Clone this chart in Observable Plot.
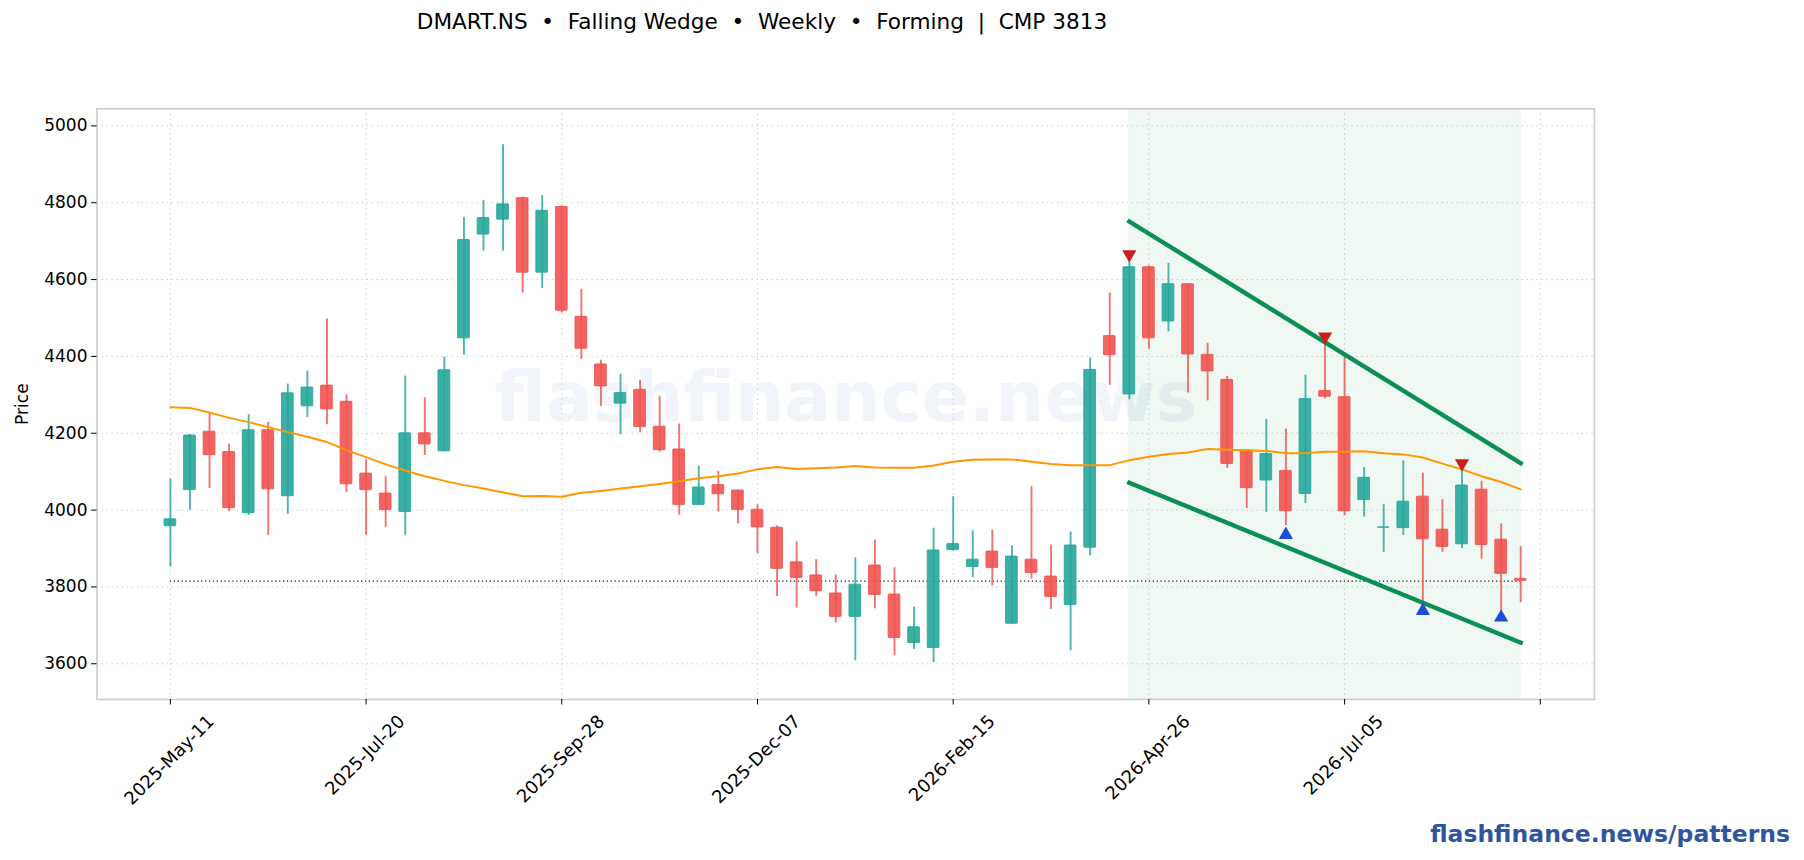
<!DOCTYPE html>
<html>
<head>
<meta charset="utf-8">
<script src="https://cdn.jsdelivr.net/npm/d3@7"></script>
<script src="https://cdn.jsdelivr.net/npm/@observablehq/plot@0.6"></script>
<style>
html,body{margin:0;padding:0;background:#fff;width:1804px;height:860px;overflow:hidden;font-family:"DejaVu Sans",sans-serif}
#title{position:absolute;left:762px;top:9px;transform:translateX(-50%);font-size:21.6px;line-height:26px;white-space:pre;color:#000}
#foot{position:absolute;right:14px;top:820px;font-size:23.5px;line-height:28px;font-weight:700;color:#2f55a0;white-space:pre}
#chart{position:absolute;left:0;top:0}
</style>
</head>
<body>
<div id="title">DMART.NS  •  Falling Wedge  •  Weekly  •  Forming  |  CMP 3813</div>
<div id="chart"></div>
<div id="foot">flashfinance.news/patterns</div>
<script>
const tickLabels = ["2025-May-11","2025-Jul-20","2025-Sep-28","2025-Dec-07","2026-Feb-15","2026-Apr-26","2026-Jul-05",""];
const opens  = [3958,4052,4204,4151,3992,4208,4036,4270,4324,4282,4095,4043,3995,4200,4153,4447,4717,4756,4812,4618,4789,4503,4379,4277,4313,4217,4158,4013,4065,4051,4001,3954,3864,3830,3783,3722,3856,3780,3654,3641,3896,3852,3892,3704,3871,3827,3753,3902,4453,4301,4632,4491,4588,4404,4339,4155,4077,4102,4042,4310,4294,4026,3954,3953,4035,3949,3911,4053,3923,3821];
const closes = [3976,4194,4143,4005,4208,4054,4304,4319,4262,4067,4052,4000,4200,4171,4364,4703,4760,4796,4618,4779,4519,4420,4322,4305,4216,4156,4013,4059,4041,4000,3955,3847,3823,3789,3722,3806,3779,3667,3695,3895,3912,3871,3849,3879,3836,3774,3908,4365,4403,4632,4447,4588,4405,4361,4120,4057,4146,3997,4289,4295,3997,4084,3955,4022,3924,3904,4064,3909,3834,3816];
const highs  = [4081,4197,4250,4172,4248,4229,4328,4362,4497,4300,4131,4087,4349,4292,4398,4762,4806,4951,4815,4819,4792,4575,4390,4354,4338,4296,4224,4115,4101,4052,4014,3959,3917,3871,3831,3876,3922,3850,3748,3953,4035,3946,3948,3907,4061,3909,3943,4396,4565,4650,4636,4642,4588,4434,4348,4155,4236,4211,4351,4435,4400,4111,4015,4128,4096,4027,4105,4074,3964,3905];
const lows   = [3852,3999,4056,3996,3986,3934,3989,4241,4222,4046,3934,3955,3934,4142,4153,4403,4674,4674,4565,4577,4513,4392,4270,4196,4201,4151,3987,4013,3995,3964,3887,3775,3745,3775,3706,3608,3743,3621,3637,3603,3893,3824,3803,3704,3820,3741,3634,3881,4325,4287,4419,4464,4305,4284,4108,4004,3994,3960,4017,4290,3985,3982,3890,3934,3753,3890,3900,3872,3735,3759];
const maValues = [4268,4266,4254,4240,4229,4216,4203,4191,4177,4156,4138,4119,4103,4088,4076,4065,4056,4046,4036,4037,4035,4045,4050,4056,4062,4068,4075,4083,4088,4095,4106,4112,4107,4109,4111,4115,4111,4110,4110,4116,4126,4131,4132,4132,4126,4120,4117,4117,4117,4130,4139,4146,4150,4159,4157,4156,4154,4148,4148,4152,4152,4153,4148,4145,4137,4121,4106,4088,4073,4054];
const priceTicks = [3600,3800,4000,4200,4400,4600,4800,5000];
const indexTicks = [0,10,20,30,40,50,60,70];
const cmpLine = 3815;
const patternStart = 49, patternEnd = 69;
const upperTrend = [[49,4751],[69,4122]];
const lowerTrend = [[49,4071],[69,3655]];
const highPivots = [[49,4663],[59,4449],[66,4119]];
const lowPivots  = [[57,3937],[64,3739],[68,3722]];
const watermark = "flashfinance.news";

const candles = opens.map((o,i)=>({i,o,c:closes[i],h:highs[i],l:lows[i],up:closes[i]>=o}));
const UP = "#26a69a", DOWN = "#ef5350", FONT = "DejaVu Sans", TS = 17, XTS = 17.9;
const ctx = document.createElement("canvas").getContext("2d");
ctx.font = XTS+"px '"+FONT+"'";
const labelMarks = tickLabels.filter(t=>t).map((t,k)=>{
  const w = ctx.measureText(t).width;
  const half = (w+XTS*0.95)*Math.SQRT1_2/2;
  return Plot.text([t],{x:()=>indexTicks[k],frameAnchor:"bottom",text:d=>d,rotate:-45,textAnchor:"middle",lineAnchor:"middle",dy:13+half,dx:-1,fontSize:XTS,fill:"#000"});
});
const chart = Plot.plot({
  width:1804,height:860,
  marginLeft:96.5,marginRight:210,marginTop:108.3,marginBottom:161,
  style:{fontFamily:FONT,fontSize:TS+"px",background:"transparent",overflow:"visible"},
  x:{domain:[-3.75,72.77]},
  y:{domain:[3507,5044.5]},
  marks:[
    Plot.text([watermark],{frameAnchor:"middle",dy:-5,text:d=>d,fontSize:69.4,fontWeight:700,fill:"#f1f4f9"}),
    Plot.gridX(indexTicks,{stroke:"#cfcfcf",strokeOpacity:1,strokeWidth:1,strokeDasharray:"1.5,3.5"}),
    Plot.gridY(priceTicks,{stroke:"#cfcfcf",strokeOpacity:1,strokeWidth:1,strokeDasharray:"1.5,3.5"}),
    Plot.rect([[patternStart,patternEnd]],{x1:d=>d[0],x2:d=>d[1],fill:"#0b8f52",fillOpacity:0.065,stroke:"#0b8f52",strokeOpacity:0.05,strokeWidth:1}),
    Plot.ruleY([cmpLine],{x1:()=>0,x2:()=>69,stroke:"#222",strokeWidth:1.3,strokeDasharray:"1.3,2.6"}),
    Plot.ruleX(candles,{x:"i",y1:"l",y2:"h",stroke:d=>d.up?UP:DOWN,strokeWidth:1.9,strokeOpacity:0.82}),
    Plot.rect(candles,{x1:d=>d.i-0.3,x2:d=>d.i+0.3,y1:d=>Math.min(d.o,d.c),y2:d=>Math.max(d.o,d.c),fill:d=>d.up?UP:DOWN,fillOpacity:0.9,stroke:d=>d.up?UP:DOWN,strokeOpacity:0.85,strokeWidth:1,rx:0.5}),
    Plot.line(maValues,{x:(d,i)=>i,y:d=>d,stroke:"#ff9800",strokeWidth:2,curve:"linear"}),
    Plot.line(upperTrend,{x:d=>d[0],y:d=>d[1],stroke:"#0b8f52",strokeWidth:4.4,strokeLinecap:"square"}),
    Plot.line(lowerTrend,{x:d=>d[0],y:d=>d[1],stroke:"#0b8f52",strokeWidth:4.4,strokeLinecap:"square"}),
    Plot.dot(highPivots,{x:d=>d[0],y:d=>d[1],symbol:"triangle",r:5.3,rotate:180,dy:-1,fill:"#c81e1e",stroke:"none"}),
    Plot.dot(lowPivots,{x:d=>d[0],y:d=>d[1],symbol:"triangle",r:5.3,dy:0.5,fill:"#1d4ed8",stroke:"none"}),
    Plot.frame({stroke:"#cccccc",strokeWidth:1.6}),
    Plot.axisY(priceTicks,{anchor:"left",tickSize:5.5,tickPadding:4,tickFormat:d=>String(d),label:"Price",labelAnchor:"center",labelArrow:"none",labelOffset:81,fontSize:TS,stroke:"#000",fill:"#000"}),
    Plot.axisX(indexTicks,{anchor:"bottom",tickSize:5.5,tickFormat:()=>"",label:null,stroke:"#000"}),
    ...labelMarks
  ]
});
document.getElementById("chart").appendChild(chart);
</script>
</body>
</html>
